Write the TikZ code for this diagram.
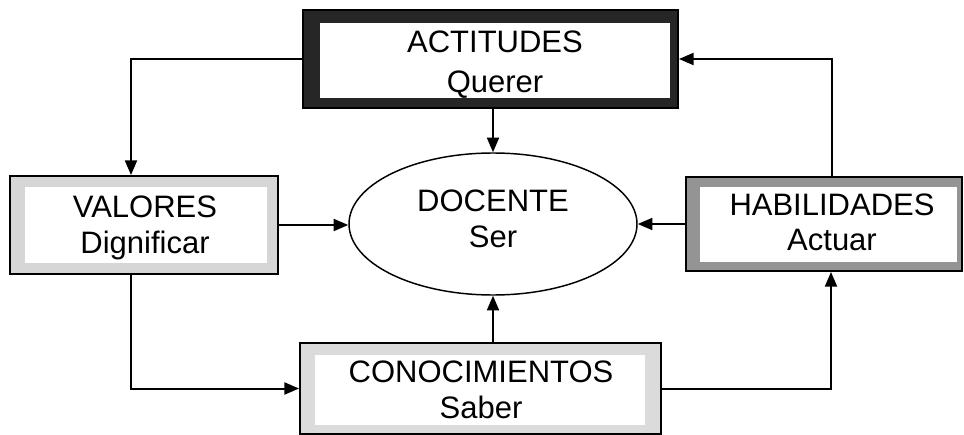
\documentclass[tikz,border=0pt]{standalone}
\usepackage{fontspec}
\setmainfont{Liberation Sans}
\usetikzlibrary{shapes.geometric,arrows.meta,calc}
\begin{document}
\begin{tikzpicture}[x=0.75pt,y=-0.75pt,
  lbl/.style={anchor=base, font=\fontsize{23.25}{27}\selectfont, inner sep=0pt},
  arr/.style={line width=1.5pt, -{Triangle[length=11pt,width=9pt]}},
  boxn/.style={draw=black, line width=1.4pt, rectangle, inner sep=0pt},
  docn/.style={draw=black, line width=1.1pt, ellipse, inner sep=0pt}]
\useasboundingbox[fill=white] (0,0) rectangle (964,435);

% ACTITUDES
\node[boxn, fill=black!85, minimum width={375*0.75pt}, minimum height={98*0.75pt}] (act) at (490.5,59) {};
\fill[white] (320,23) rectangle (670,98);
\node[lbl] (actA) at (495,53) {ACTITUDES};
\node[lbl] (actB) at (495,93) {Querer};

% VALORES
\node[boxn, fill=black!16, minimum width={268*0.75pt}, minimum height={98*0.75pt}] (val) at (144,225) {};
\fill[white] (25,187) rectangle (267,263);
\node[lbl] (valA) at (145,217) {VALORES};
\node[lbl] (valB) at (145,253) {Dignificar};

% CONOCIMIENTOS
\node[boxn, fill=black!14, minimum width={361*0.75pt}, minimum height={91*0.75pt}] (con) at (480.5,388.5) {};
\fill[white] (315,355) rectangle (645,425);
\node[lbl] (conA) at (481,382) {CONOCIMIENTOS};
\node[lbl] (conB) at (481,418) {Saber};

% HABILIDADES
\node[boxn, fill=black!42, minimum width={276*0.75pt}, minimum height={94*0.75pt}] (hab) at (824,224) {};
\fill[white] (700,187) rectangle (957,262);
\node[lbl] (habA) at (832,215) {HABILIDADES};
\node[lbl] (habB) at (832,250) {Actuar};

% DOCENTE
\node[docn, minimum width={288*0.75pt}, minimum height={142*0.75pt}] (doc) at (493,224) {};
\node[lbl] (docA) at (493,211) {DOCENTE};
\node[lbl] (docB) at (493,247) {Ser};

% connectors
\draw[arr] (act.west) -| ($(val.north)+(-13,0)$);
\draw[arr] (act.south -| doc.north) -- (doc.north);
\draw[arr] (val.east) -- (val.east -| doc.west);
\draw[arr] (hab.west) -- (doc.east);
\draw[arr] (con.north -| doc.south) -- (doc.south);
\draw[arr] ($(val.south)+(-13,0)$) |- (con.west);
\draw[arr] (con.east) -| ($(hab.south)+(7,0)$);
\draw[arr] ($(hab.north)+(8,0)$) |- (act.east);
\end{tikzpicture}
\end{document}
